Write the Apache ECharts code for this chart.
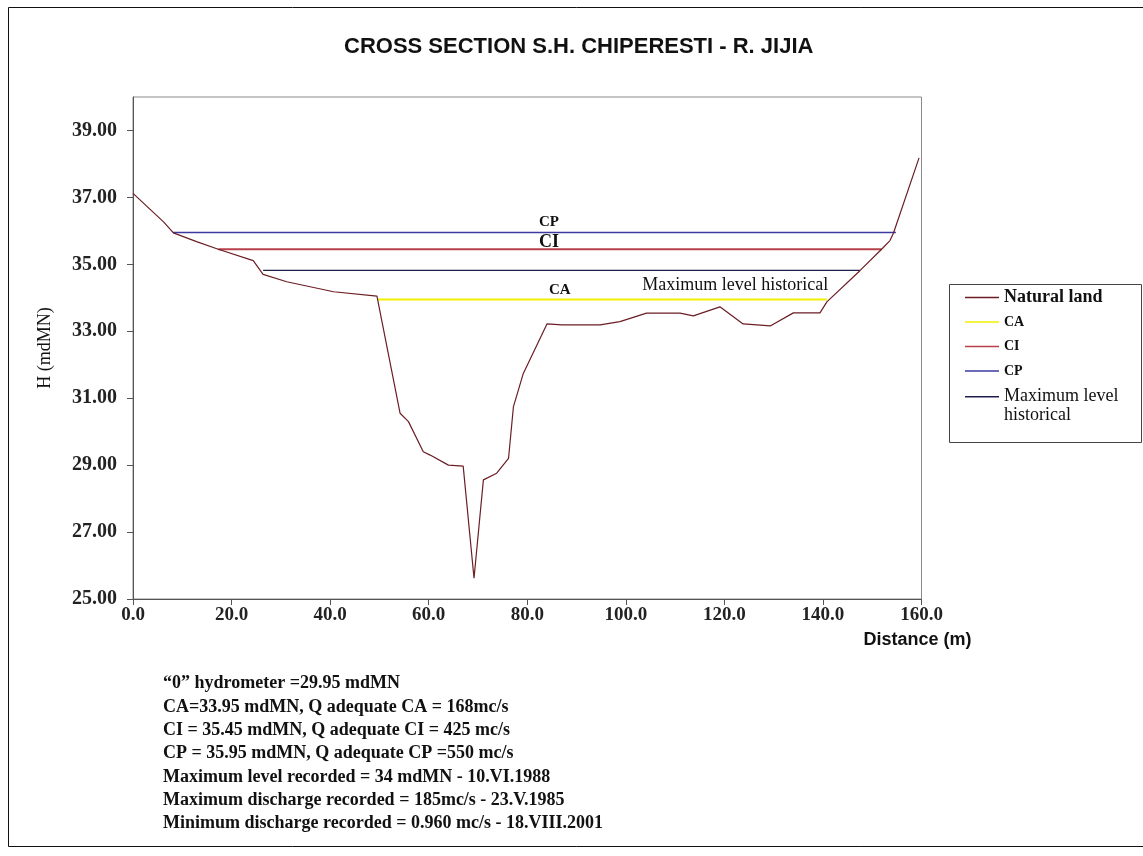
<!DOCTYPE html>
<html>
<head>
<meta charset="utf-8">
<script src="https://cdn.jsdelivr.net/npm/echarts@6/dist/echarts.min.js"></script>
<style>
html,body{margin:0;padding:0;background:#fff;}
#chart{width:1143px;height:856px;}
</style>
</head>
<body>
<div id="chart"></div>
<script>
// ---- data ----
const titleText = 'CROSS SECTION S.H. CHIPERESTI - R. JIJIA';
const xTicks = [0, 20, 40, 60, 80, 100, 120, 140, 160];
const yTicks = [25, 27, 29, 31, 33, 35, 37, 39];
// Natural land profile: [distance (m), H (mdMN)]
const landDistance = [0, 6.2, 8.2, 12.9, 17.3, 24.4, 26.4, 31.2, 40.7, 49.5, 54.2, 55.9, 58.9, 60.3, 64.0, 67.0, 69.2, 71.1, 73.8, 76.2, 77.2, 79.2, 84.0, 87.0, 94.8, 98.8, 104.2, 111.0, 113.7, 119.1, 123.8, 126.6, 129.3, 134.0, 139.4, 140.8, 147.5, 151.9, 153.6, 154.3, 159.5];
const landH = [37.12, 36.27, 35.94, 35.68, 35.45, 35.11, 34.70, 34.48, 34.18, 34.05, 30.55, 30.30, 29.40, 29.30, 29.00, 28.97, 25.62, 28.56, 28.76, 29.20, 30.75, 31.74, 33.22, 33.19, 33.19, 33.29, 33.54, 33.54, 33.46, 33.73, 33.22, 33.19, 33.16, 33.55, 33.55, 33.88, 34.81, 35.45, 35.71, 35.93, 38.18];
// Reference levels: [start distance, end distance], level
const caExtent = [49.5, 140.8], caLevel = 33.95;
const ciExtent = [17.3, 151.9], ciLevel = 35.45;
const cpExtent = [8.1, 154.8], cpLevel = 35.95;
const maxExtent = [26.4, 147.5], maxLevel = 34.82;
const noteLines = [
  '\u201C0\u201D hydrometer =29.95 mdMN',
  'CA=33.95 mdMN, Q adequate CA = 168mc/s',
  'CI = 35.45 mdMN, Q adequate CI = 425 mc/s',
  'CP = 35.95 mdMN, Q adequate CP =550 mc/s',
  'Maximum level recorded = 34 mdMN - 10.VI.1988',
  'Maximum discharge recorded = 185mc/s - 23.V.1985',
  'Minimum discharge recorded = 0.960 mc/s - 18.VIII.2001'
];

// ---- chart ----
const SERIF = 'Liberation Serif, Times New Roman, serif';
const SANS = 'Liberation Sans, Arial, sans-serif';
const land = landDistance.map((d, i) => [d, landH[i]]);
const hline = (ext, lv) => [[ext[0], lv], [ext[1], lv]];
const C_LAND = '#6b1e24', C_CA = '#f0f000', C_CI = '#b8404a', C_CP = '#3a3aa0', C_MAX = '#1e1e4a';

function annot(coord, text, font) {
  return {
    symbol: 'circle', symbolSize: 0, silent: true,
    data: [{ coord: coord }],
    label: { show: true, position: 'inside', formatter: text, color: '#111', fontFamily: SERIF, fontSize: font.size, fontWeight: font.weight }
  };
}

const chart = echarts.init(document.getElementById('chart'), null, { renderer: 'canvas' });
chart.setOption({
  animation: false,
  backgroundColor: '#fff',
  title: {
    text: titleText, left: 339, top: 31,
    textStyle: { fontFamily: SANS, fontWeight: 'bold', fontSize: 22, color: '#111' }
  },
  grid: { left: 133, top: 97, right: 221.5, bottom: 257, show: true, borderColor: '#8a8a8a', borderWidth: 1, backgroundColor: 'transparent' },
  legend: [{
    orient: 'vertical', left: 965, top: 288.5, padding: 0, itemWidth: 34, itemHeight: 1.6, itemGap: 6.5,
    icon: 'rect', selectedMode: false,
    data: [
      { name: 'Natural land', textStyle: { fontFamily: SERIF, fontWeight: 'bold', fontSize: 18, lineHeight: 18, color: '#111' } },
      { name: 'CA', textStyle: { fontFamily: SERIF, fontWeight: 'bold', fontSize: 14, lineHeight: 18, color: '#111' } },
      { name: 'CI', textStyle: { fontFamily: SERIF, fontWeight: 'bold', fontSize: 14, lineHeight: 18, color: '#111' } },
      { name: 'CP', textStyle: { fontFamily: SERIF, fontWeight: 'bold', fontSize: 14, lineHeight: 18, color: '#111' } }
    ]
  }, {
    orient: 'vertical', left: 965, top: 386.5, padding: 0, itemWidth: 34, itemHeight: 19,
    icon: 'path://M0,0H34V1.6H0Z M0,19L0.01,19Z', selectedMode: false,
    formatter: () => 'Maximum level\nhistorical',
    data: [{ name: 'Maximum level historical', textStyle: { fontFamily: SERIF, fontSize: 18, lineHeight: 19, color: '#111' } }]
  }],
  xAxis: {
    type: 'value', min: xTicks[0], max: xTicks[xTicks.length - 1], interval: 20,
    name: 'Distance (m)', nameLocation: 'end', nameGap: -4,
    nameTextStyle: { fontFamily: SANS, fontWeight: 'bold', fontSize: 18, color: '#111', align: 'center', verticalAlign: 'top', padding: [32, 0, 0, 0] },
    axisLine: { show: true, lineStyle: { color: '#555', width: 1 } },
    axisTick: { show: true, length: 6, lineStyle: { color: '#555' } },
    axisLabel: { formatter: v => v.toFixed(1), fontFamily: SERIF, fontWeight: 'bold', fontSize: 19, color: '#222', margin: 7 },
    splitLine: { show: false }
  },
  yAxis: {
    type: 'value', min: 25, max: 40,
    name: 'H (mdMN)', nameLocation: 'middle', nameGap: 79,
    nameTextStyle: { fontFamily: SERIF, fontSize: 18, color: '#111' },
    axisLine: { show: true, lineStyle: { color: '#555', width: 1 } },
    axisTick: { show: true, length: 6, lineStyle: { color: '#555' }, customValues: yTicks },
    axisLabel: { customValues: yTicks, formatter: v => v.toFixed(2), fontFamily: SERIF, fontWeight: 'bold', fontSize: 20, color: '#222', margin: 16 },
    splitLine: { show: false }
  },
  series: [
    { name: 'Natural land', type: 'line', data: land, symbol: 'none', z: 3, lineStyle: { color: C_LAND, width: 1.2 }, itemStyle: { color: C_LAND } },
    { name: 'CA', type: 'line', data: hline(caExtent, caLevel), symbol: 'none', z: 2, lineStyle: { color: C_CA, width: 2 }, itemStyle: { color: C_CA },
      markPoint: annot([86.6, 34.23], 'CA', { size: 15, weight: 'bold' }) },
    { name: 'CI', type: 'line', data: hline(ciExtent, ciLevel), symbol: 'none', z: 2, lineStyle: { color: C_CI, width: 2 }, itemStyle: { color: C_CI },
      markPoint: annot([84.4, 35.66], 'CI', { size: 18, weight: 'bold' }) },
    { name: 'CP', type: 'line', data: hline(cpExtent, cpLevel), symbol: 'none', z: 2, lineStyle: { color: C_CP, width: 1.4 }, itemStyle: { color: C_CP },
      markPoint: annot([84.4, 36.27], 'CP', { size: 15, weight: 'bold' }) },
    { name: 'Maximum level historical', type: 'line', data: hline(maxExtent, maxLevel), symbol: 'none', z: 2, lineStyle: { color: C_MAX, width: 1.4 }, itemStyle: { color: C_MAX },
      markPoint: annot([122.2, 34.38], 'Maximum level historical', { size: 18, weight: 'normal' }) }
  ],
  graphic: [
    { type: 'rect', silent: true, shape: { x: 8.5, y: 7.5, width: 1160, height: 839 }, style: { fill: 'none', stroke: '#111', lineWidth: 1 } },
    { type: 'rect', silent: true, shape: { x: 949.5, y: 284.5, width: 192, height: 158 }, style: { fill: 'none', stroke: '#444', lineWidth: 1 } },
    { type: 'text', silent: true, x: 163, y: 672, style: { text: noteLines.join('\n'), fontFamily: SERIF, fontWeight: 'bold', fontSize: 18, lineHeight: 23.3, fill: '#111' } }
  ]
});
</script>
</body>
</html>
